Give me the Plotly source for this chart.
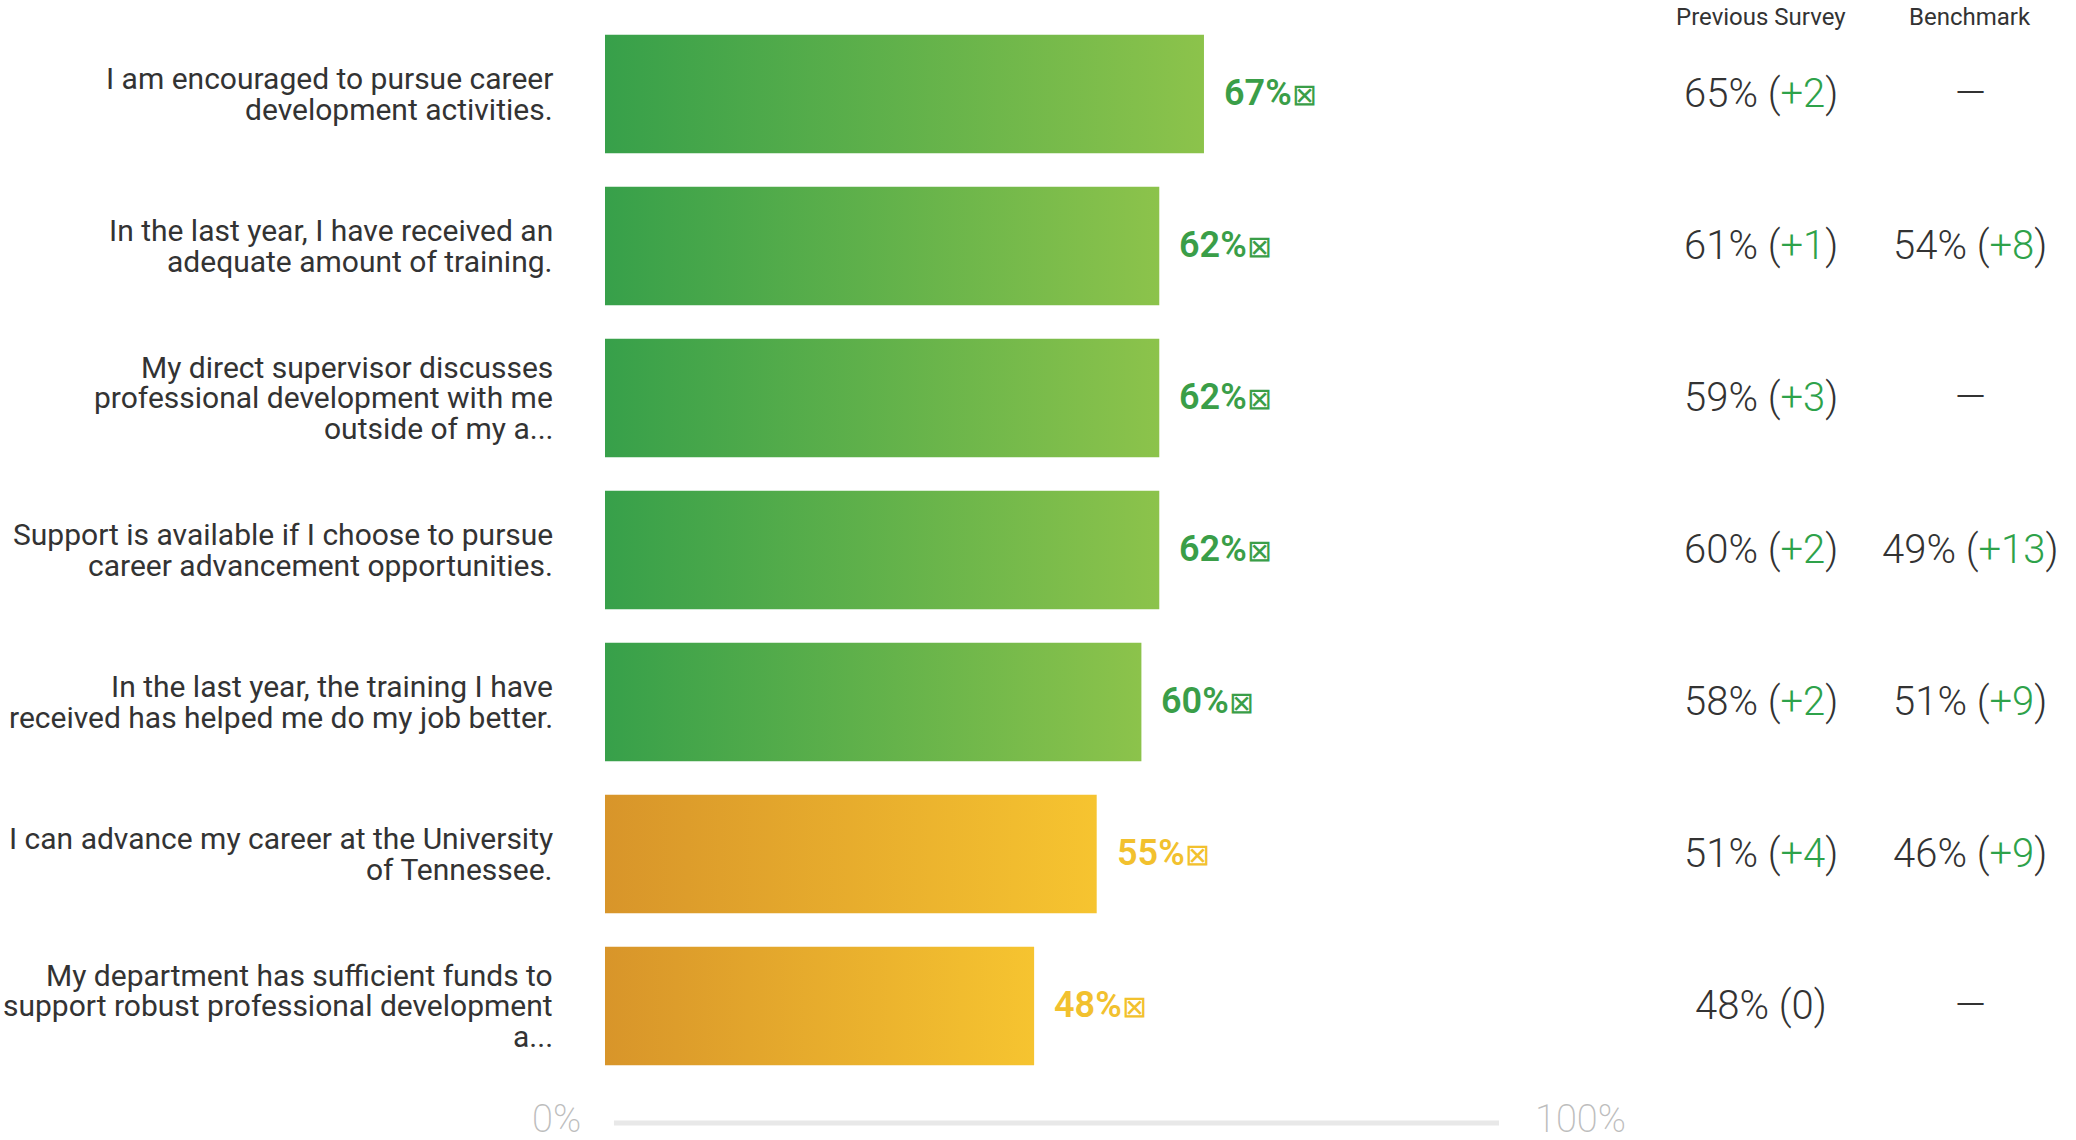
import plotly.graph_objects as go

# Survey items (question text, wrapped as shown)
questions = [
    "I am encouraged to pursue career<br>development activities.",
    "In the last year, I have received an<br>adequate amount of training.",
    "My direct supervisor discusses<br>professional development with me<br>outside of my a...",
    "Support is available if I choose to pursue<br>career advancement opportunities.",
    "In the last year, the training I have<br>received has helped me do my job better.",
    "I can advance my career at the University<br>of Tennessee.",
    "My department has sufficient funds to<br>support robust professional development<br>a...",
]
# Percent favourable, current survey
current = [67, 62, 62, 62, 60, 55, 48]
# Percent favourable, previous survey
previous = [65, 61, 59, 60, 58, 51, 48]
# Benchmark percent (None where no benchmark exists)
benchmark = [None, 54, None, 49, 51, 46, None]

column_headers = ["Previous Survey", "Benchmark"]
axis_tick_labels = ["0%", "100%"]
axis_tick_values = [0, 100]

W, H = 2076, 1140
BAR_HALF = 0.39
LINE_PX = 30.5
GREEN = ["#37a04a", "#8cc34b"]
ORANGE = ["#d8952a", "#f6c430"]
GREEN_TEXT = "#3a9e48"
ORANGE_TEXT = "#f2c12e"
DELTA_GREEN = "#2ea24a"
DARK = "#333333"
GRID = "#e8e8e8"
TICK_GREY = "#bdbdbd"

VALUE_FONT = "Roboto"
LABEL_FONT = "Roboto"

fig = go.Figure()

# Gradient-filled bars, one closed polygon per item
for i, v in enumerate(current):
    cols = GREEN if v >= 60 else ORANGE
    fig.add_trace(go.Scatter(
        x=[0, v, v, 0, 0],
        y=[i - BAR_HALF, i - BAR_HALF, i + BAR_HALF, i + BAR_HALF, i - BAR_HALF],
        mode="lines",
        line=dict(width=0),
        fill="toself",
        fillgradient=dict(type="horizontal", colorscale=[[0, cols[0]], [1, cols[1]]]),
        hoverinfo="skip",
        showlegend=False,
    ))

annotations = []

# Question labels on the left, one annotation per line for tight leading
for i, q in enumerate(questions):
    lines = q.split("<br>")
    n = len(lines)
    for k, line in enumerate(lines):
        annotations.append(dict(
            x=555 / W, xref="paper", y=i, yref="y",
            yshift=-(k - (n - 1) / 2) * LINE_PX,
            text=line, showarrow=False, xanchor="right", yanchor="middle", align="right",
            font=dict(family=LABEL_FONT, size=30, color=DARK),
        ))

# Value labels at bar ends
for i, v in enumerate(current):
    annotations.append(dict(
        x=v, xref="x", y=i, yref="y", xshift=18, yshift=1,
        text=f"{v}%<span style='font-size:30px;font-weight:400'>\u22a0</span>",
        showarrow=False, xanchor="left", yanchor="middle",
        font=dict(family=VALUE_FONT, size=36, weight=600,
                  color=GREEN_TEXT if v >= 60 else ORANGE_TEXT),
    ))


def compare_text(ref, cur):
    if ref is None:
        return "\u2014"
    d = cur - ref
    if d > 0:
        delta = f"<span style='color:{DELTA_GREEN}'>+{d}</span>"
    elif d < 0:
        delta = f"<span style='color:#d9534f'>{d}</span>"
    else:
        delta = "0"
    return f"{ref}% ({delta})"


col_x = [1761 / W, 1970 / W]
for c, series in enumerate([previous, benchmark]):
    annotations.append(dict(
        x=col_x[c], xref="paper", y=1 - 17 / H, yref="paper",
        text=column_headers[c], showarrow=False, xanchor="center", yanchor="middle",
        font=dict(family=LABEL_FONT, size=24, color=DARK),
    ))
    for i, ref in enumerate(series):
        annotations.append(dict(
            x=col_x[c], xref="paper", y=i, yref="y",
            text=compare_text(ref, current[i]), showarrow=False,
            xanchor="center", yanchor="middle",
            font=dict(family=VALUE_FONT, size=40, weight=300, color=DARK),
        ))

# Axis end labels
for val, lab in zip(axis_tick_values, axis_tick_labels):
    annotations.append(dict(
        x=val, xref="x", y=6.77, yref="y",
        xshift=-22 if val == 0 else 34, yshift=4,
        text=lab, showarrow=False,
        xanchor="right" if val == 0 else "left", yanchor="middle",
        font=dict(family=VALUE_FONT, size=38, weight=200, color=TICK_GREY),
    ))

# Light baseline track under the bars
shapes = [dict(
    type="line", xref="x", yref="y",
    x0=1, x1=100.6, y0=6.77, y1=6.77,
    line=dict(color=GRID, width=5),
    layer="below",
)]

fig.update_layout(
    width=W, height=H,
    margin=dict(l=0, r=0, t=0, b=0),
    paper_bgcolor="white", plot_bgcolor="white",
    xaxis=dict(domain=[605 / W, 1499 / W], range=[0, 100], visible=False, fixedrange=True),
    yaxis=dict(domain=[0, 1], range=[6.882, -0.618], visible=False, fixedrange=True),
    annotations=annotations,
    shapes=shapes,
    showlegend=False,
)

fig.write_html("out.html")
